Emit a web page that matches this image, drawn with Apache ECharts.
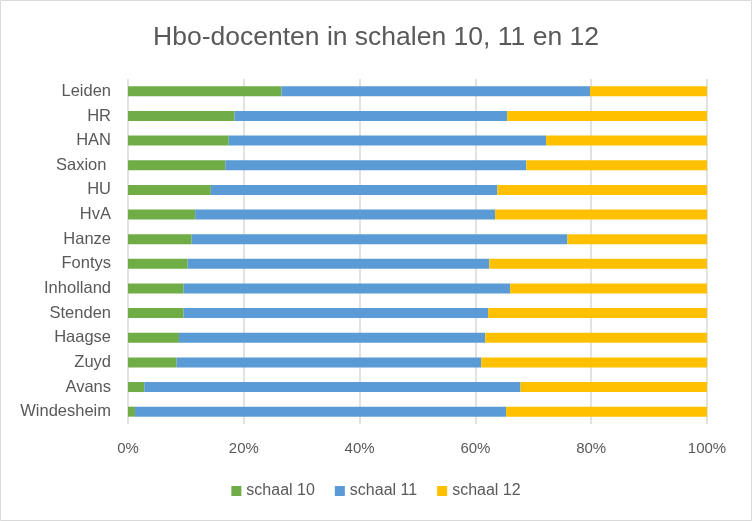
<!DOCTYPE html>
<html>
<head>
<meta charset="utf-8">
<script src="https://cdn.jsdelivr.net/npm/echarts@6/dist/echarts.min.js"></script>
<style>
html,body{margin:0;padding:0;background:#fff;}
#chart{width:752px;height:521px;}
</style>
</head>
<body>
<div id="chart"></div>
<script>
var categories = ["Leiden","HR","HAN","Saxion ","HU","HvA","Hanze","Fontys","Inholland","Stenden","Haagse","Zuyd","Avans","Windesheim"];
var schaal10 = [26.5,18.4,17.4,16.8,14.3,11.6,11.0,10.3,9.6,9.6,8.8,8.4,2.8,1.2];
var schaal11 = [53.3,47.1,54.8,52.0,49.5,51.8,64.9,52.1,56.4,52.6,52.9,52.6,65.0,64.1];
var schaal12 = [20.2,34.5,27.8,31.2,36.2,36.6,24.1,37.6,34.0,37.8,38.3,39.0,32.2,34.7];
var xTicks = [0,20,40,60,80,100];

var font = "'Liberation Sans', Arial, sans-serif";
var chart = echarts.init(document.getElementById('chart'));
chart.setOption({
  animation:false,
  backgroundColor:'#fff',
  textStyle:{fontFamily:font},
  title:{
    text:'Hbo-docenten in schalen 10, 11 en 12',
    left:'center', top:19,
    textStyle:{fontFamily:font,fontSize:26.5,fontWeight:'normal',color:'#595959'}
  },
  graphic:[{type:'rect',shape:{x:0.5,y:0.5,width:751,height:520},style:{fill:'none',stroke:'#d9d9d9',lineWidth:1},silent:true}],
  legend:{
    bottom:17, left:'center',
    itemWidth:10,itemHeight:10,itemGap:20,
    icon:'rect',
    textStyle:{fontFamily:font,fontSize:16,color:'#595959'},
    data:['schaal 10','schaal 11','schaal 12']
  },
  grid:{left:128,right:45,top:79,bottom:97,containLabel:false},
  xAxis:{
    type:'value',min:0,max:100,interval:20,
    axisLine:{show:false},axisTick:{show:false},
    splitLine:{show:true,lineStyle:{color:'#d9d9d9',width:1.5}},
    axisLabel:{formatter:function(v){return xTicks.indexOf(v)>=0? v+'%':'';},fontSize:15,color:'#595959',margin:17,fontFamily:font}
  },
  yAxis:{
    type:'category',data:categories,inverse:true,
    axisLine:{show:false},axisTick:{show:false},
    axisLabel:{fontSize:16.5,color:'#595959',margin:17,fontFamily:font}
  },
  series:[
    {name:'schaal 10',type:'bar',stack:'t',data:schaal10,barWidth:10,itemStyle:{color:'#70AD47'}},
    {name:'schaal 11',type:'bar',stack:'t',data:schaal11,barWidth:10,itemStyle:{color:'#5B9BD5'}},
    {name:'schaal 12',type:'bar',stack:'t',data:schaal12,barWidth:10,itemStyle:{color:'#FFC000'}}
  ]
});
</script>
</body>
</html>
